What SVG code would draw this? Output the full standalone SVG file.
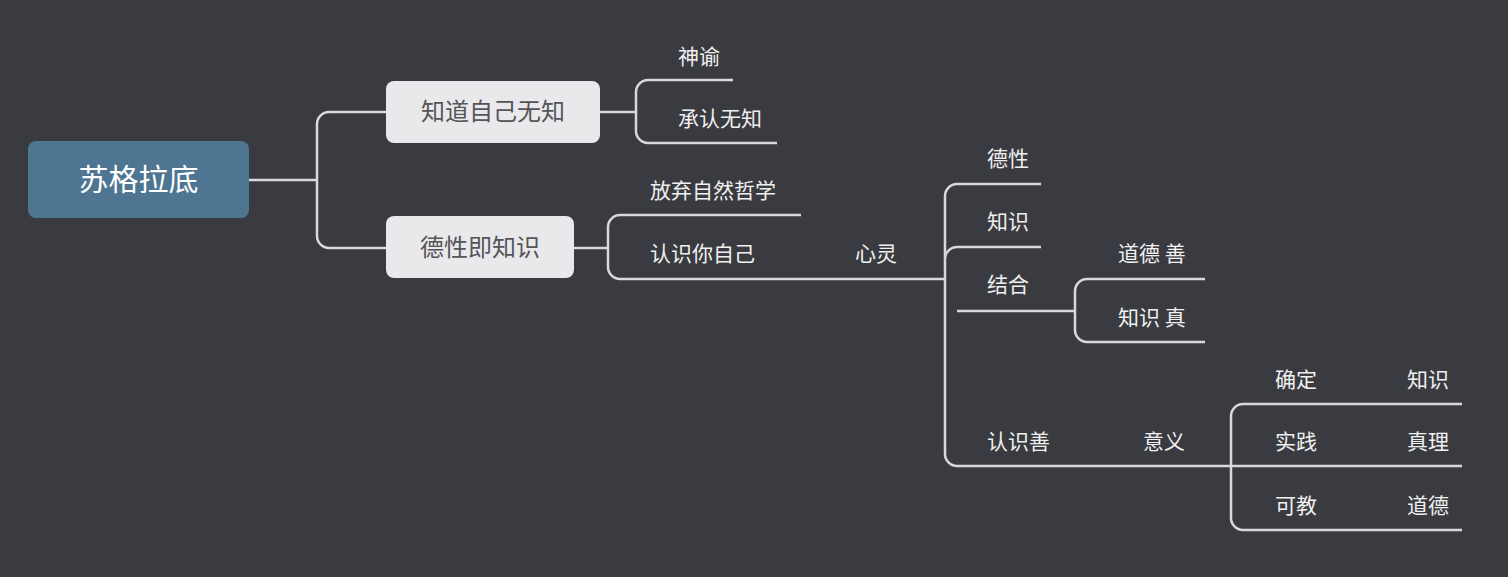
<svg xmlns="http://www.w3.org/2000/svg" width="1508" height="577" viewBox="0 0 1508 577">
<style>
.t{font-family:"Noto Sans CJK SC","Noto Sans",sans-serif;font-size:21px;fill:#f0f0f0}
.b{font-family:"Noto Sans CJK SC","Noto Sans",sans-serif;font-size:24px;fill:#555559;text-anchor:middle}
.c{fill:none;stroke:#d9d9db;stroke-width:2.5}
</style>
<rect width="1508" height="577" fill="#3a3b40"/>
<g id="connectors" class="c">
<path d="M249 180H317M329 112H386M329 248H386M317 124V236M329 112A12 12 0 0 0 317 124M317 236A12 12 0 0 0 329 248"/>
<path d="M600 112H636M648 80H733M648 143H777M636 92V131M648 80A12 12 0 0 0 636 92M636 131A12 12 0 0 0 648 143"/>
<path d="M574 248H608M620 215H801M620 279H945M608 227V267M620 215A12 12 0 0 0 608 227M608 267A12 12 0 0 0 620 279"/>
<path d="M957 184H1041M957 247H1041M957 311H1075M957 466H1231M945 196V454M957 184A12 12 0 0 0 945 196M945 454A12 12 0 0 0 957 466M957 247A12 12 0 0 0 945 259"/>
<path d="M1087 279H1205M1087 342H1205M1075 291V330M1087 279A12 12 0 0 0 1075 291M1075 330A12 12 0 0 0 1087 342"/>
<path d="M1243 404H1462M1231 466H1462M1243 530H1462M1231 416V518M1243 404A12 12 0 0 0 1231 416M1231 518A12 12 0 0 0 1243 530"/>
</g>
<g id="root"><rect x="28" y="141" width="221" height="77" rx="8" fill="#4e7591"/><text x="138.5" y="190" font-family="Noto Sans CJK SC,sans-serif" font-size="30" fill="#fff" text-anchor="middle">苏格拉底</text></g>
<g id="n1"><rect x="386" y="81" width="214" height="62" rx="8" fill="#e9e9eb"/><text class="b" x="493" y="120">知道自己无知</text></g>
<g id="n2"><rect x="386" y="216" width="188" height="62" rx="8" fill="#e9e9eb"/><text class="b" x="480" y="256">德性即知识</text></g>
<g id="n3"><text class="t" x="678" y="64">神谕</text></g>
<g id="n4"><text class="t" x="678" y="126">承认无知</text></g>
<g id="n5"><text class="t" x="650" y="198">放弃自然哲学</text></g>
<g id="n6"><text class="t" x="650" y="261">认识你自己</text></g>
<g id="n7"><text class="t" x="855" y="261">心灵</text></g>
<g id="n8"><text class="t" x="987" y="166">德性</text></g>
<g id="n9"><text class="t" x="987" y="229">知识</text></g>
<g id="n10"><text class="t" x="987" y="292">结合</text></g>
<g id="n11"><text class="t" x="1118" y="261">道德 善</text></g>
<g id="n12"><text class="t" x="1118" y="325">知识 真</text></g>
<g id="n13"><text class="t" x="987" y="449">认识善</text></g>
<g id="n14"><text class="t" x="1143" y="449">意义</text></g>
<g id="n15"><text class="t" x="1275" y="387">确定</text></g>
<g id="n16"><text class="t" x="1407" y="387">知识</text></g>
<g id="n17"><text class="t" x="1275" y="449">实践</text></g>
<g id="n18"><text class="t" x="1407" y="449">真理</text></g>
<g id="n19"><text class="t" x="1275" y="513">可教</text></g>
<g id="n20"><text class="t" x="1407" y="513">道德</text></g>
</svg>
